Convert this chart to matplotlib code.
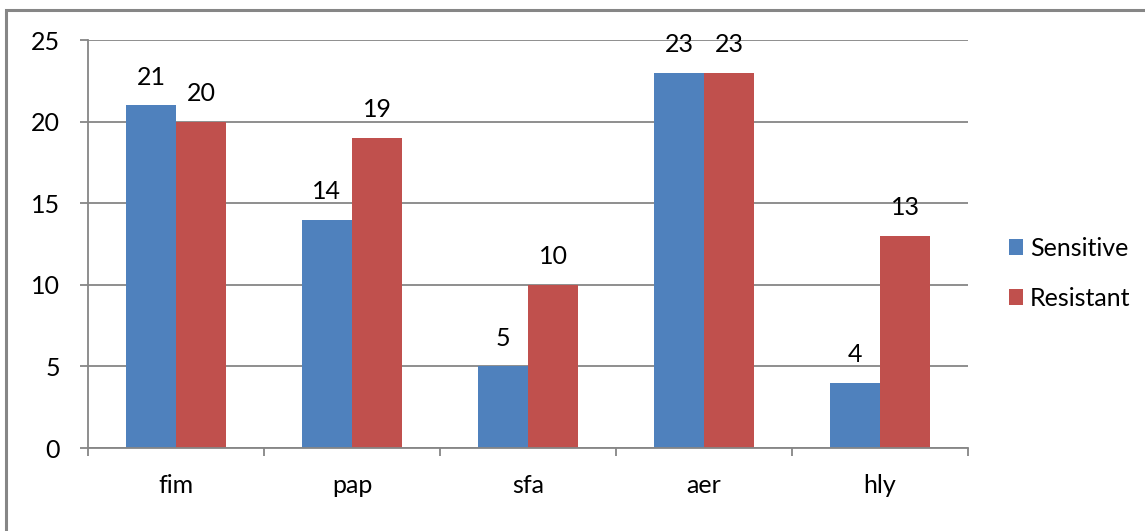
import numpy as np
import matplotlib.pyplot as plt
from matplotlib.patches import Rectangle

categories = ["fim", "pap", "sfa", "aer", "hly"]
sensitive = [21, 14, 5, 23, 4]
resistant = [20, 19, 10, 23, 13]
series_names = ["Sensitive", "Resistant"]
y_ticks = [0, 5, 10, 15, 20, 25]

blue = "#4F81BD"
red = "#C0504D"
grey = "#868686"

plt.rcParams["font.family"] = ["Lato", "DejaVu Sans"]
plt.rcParams["font.size"] = 18

fig = plt.figure(figsize=(11.45, 5.31), dpi=100)
ax = fig.add_axes([88 / 1145, 83 / 531, 880 / 1145, 408 / 531])

# chart area frame (only top and left edges fall inside the image)
fig.patches.append(Rectangle((6 / 1145, -0.1), 1.2, (521 / 531) + 0.1,
                             transform=fig.transFigure, fill=False,
                             edgecolor=grey, linewidth=2.2))

ind = np.arange(len(categories))
width = 0.285

b1 = ax.bar(ind - width / 2, sensitive, width, color=blue, label=series_names[0])
b2 = ax.bar(ind + width / 2, resistant, width, color=red, label=series_names[1])

for bars, vals in ((b1, sensitive), (b2, resistant)):
    for rect, v in zip(bars, vals):
        ax.annotate(str(v), (rect.get_x() + rect.get_width() / 2, v),
                    xytext=(0, 12), textcoords="offset points",
                    ha="center", va="bottom")

ax.set_xlim(-0.5, len(categories) - 0.5)
ax.set_ylim(0, 25)
ax.set_yticks(y_ticks)
ax.yaxis.grid(True, color=grey, linewidth=1.3)
ax.set_axisbelow(True)

ax.set_xticks(ind)
ax.set_xticklabels(categories)
ax.set_xticks(np.arange(len(categories) + 1) - 0.5, minor=True)
ax.tick_params(axis="x", which="major", length=0, pad=19)
ax.tick_params(axis="x", which="minor", length=6, width=1.3, color=grey)
ax.tick_params(axis="y", length=6, width=1.3, color=grey, pad=14)

for side in ("top", "right"):
    ax.spines[side].set_visible(False)
for side in ("left", "bottom"):
    ax.spines[side].set_color(grey)
    ax.spines[side].set_linewidth(1.3)

ax.legend(loc="center left", bbox_to_anchor=(1.035, 0.428), frameon=False,
          handlelength=0.55, handleheight=0.6, handletextpad=0.3,
          labelspacing=1.1, borderaxespad=0)

fig.savefig("out.png", dpi=100)
